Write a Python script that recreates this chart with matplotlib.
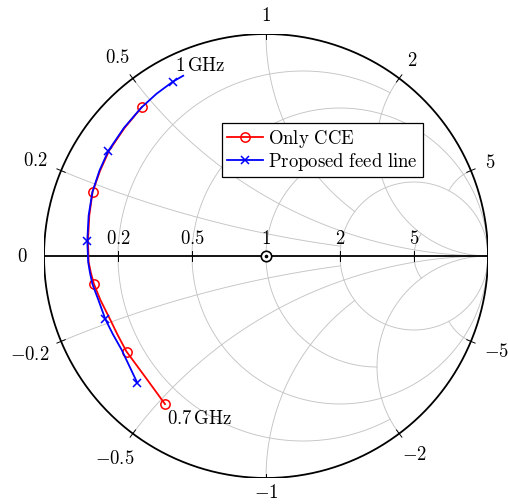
import numpy as np
import matplotlib.pyplot as plt

plt.rcParams['mathtext.fontset'] = 'cm'

cce_re = [-0.455, -0.541, -0.628, -0.668, -0.703, -0.746, -0.775, -0.789,
          -0.799, -0.802, -0.796, -0.781, -0.747, -0.707, -0.637, -0.560]
cce_im = [-0.667, -0.549, -0.431, -0.356, -0.284, -0.198, -0.126, -0.075,
          -0.027, 0.069, 0.182, 0.290, 0.385, 0.474, 0.577, 0.670]
cce_marks = [0, 2, 6, 11, 15]

feed_re = [-0.580, -0.650, -0.690, -0.724, -0.755, -0.782, -0.793, -0.801,
           -0.805, -0.799, -0.782, -0.750, -0.710, -0.640, -0.561, -0.493,
           -0.420, -0.373]
feed_im = [-0.571, -0.423, -0.352, -0.284, -0.198, -0.126, -0.075, -0.027,
           0.069, 0.182, 0.288, 0.385, 0.474, 0.577, 0.669, 0.731, 0.785,
           0.812]
feed_marks = [0, 3, 8, 12, 16]

# smith chart grid
r_ticks = [0.2, 0.5, 1, 2, 5]
x_ticks = [0.2, 0.5, 1, 2, 5]
r_labels = ['0.2', '0.5', '1', '2', '5']
x_labels = ['0.2', '0.5', '1', '2', '5']
full_lines = [0.5, 2]      # the others stop at 2
grid_stop = 2

fs = 13.5
PX = 1 / 222.0   # data units per pixel

fig = plt.figure(figsize=(5.08, 5.04), dpi=100)
ax = fig.add_axes([44 / 508, 26 / 504, 444 / 508, 444 / 504])
ax.set_xlim(-1, 1)
ax.set_ylim(-1, 1)
ax.axis('off')


def gamma(z):
    return (z - 1) / (z + 1)


grid_kw = dict(color='#c4c4c4', lw=0.65, zorder=1)

############### GRID ############
for r in r_ticks:
    if r in full_lines:
        t = np.linspace(0, 2 * np.pi, 721)
        c, rad = r / (1 + r), 1 / (1 + r)
        ax.plot(c + rad * np.cos(t), rad * np.sin(t), **grid_kw)
    else:
        g = gamma(r + 1j * np.linspace(-grid_stop, grid_stop, 801))
        ax.plot(g.real, g.imag, **grid_kw)

for x in x_ticks:
    if x in full_lines:
        rr = np.concatenate([np.linspace(0, 5, 500), np.geomspace(5, 1e5, 600)])
    else:
        rr = np.linspace(0, grid_stop, 500)
    for s in (1, -1):
        g = gamma(rr + 1j * s * x)
        ax.plot(g.real, g.imag, **grid_kw)

# outer circle and real axis
t = np.linspace(0, 2 * np.pi, 721)
ax.plot(np.cos(t), np.sin(t), color='black', lw=1.3, zorder=3)
ax.plot([-1, 1], [0, 0], color='black', lw=1.3, zorder=3)

# ticks on the real axis
for r, lab in zip(r_ticks, r_labels):
    g = gamma(r)
    ax.plot([g, g], [-5 * PX, 5 * PX], color='black', lw=0.7, zorder=3)
    ax.text(g, 18 * PX, '$' + lab + '$', ha='center', va='center', fontsize=fs)
ax.text(-1 - 22 * PX, 0, '$0$', ha='center', va='center', fontsize=fs)

# ticks and labels on the outer circle
fig.canvas.draw()
renderer = fig.canvas.get_renderer()
for x, lab in zip(x_ticks, x_labels):
    for s in (1, -1):
        p = gamma(1j * s * x)
        ux, uy = p.real, p.imag
        ax.plot([ux * (1 - 4.5 * PX), ux * (1 + 4.5 * PX)],
                [uy * (1 - 4.5 * PX), uy * (1 + 4.5 * PX)],
                color='black', lw=0.7, zorder=3)
        txt = '$' + ('-' if s < 0 else '') + lab + '$'
        tt = ax.text(0, 0, txt, ha='center', va='center', fontsize=fs)
        bb = tt.get_window_extent(renderer)
        gap = 9 + 3.5 * abs(ux)
        d = gap + abs(ux) * bb.width / 2 + abs(uy) * bb.height / 2
        px_ = ux * (1 + d * PX)
        py_ = uy * (1 + d * PX)
        # keep the label inside the figure
        bottom = 256 - py_ / PX + bb.height / 2
        if bottom > 502:
            py_ += (bottom - 502) * PX
        tt.set_position((px_, py_))

############### DATA ############
ax.plot(cce_re, cce_im, color='red', lw=1.3, marker='o', ms=6.7, mfc='none',
        mew=1.1, markevery=cce_marks, label=r'$\mathrm{Only\ CCE}$', zorder=4)
ax.plot(feed_re, feed_im, color='blue', lw=1.3, marker='x', ms=5.5,
        mew=1.1, markevery=feed_marks,
        label=r'$\mathrm{Proposed\ feed\ line}$', zorder=5)

# centre point
ax.plot([0], [0], marker='o', ms=7.5, mfc='white', mec='black', mew=1.2,
        zorder=6)
ax.plot([0], [0], marker='o', ms=1.6, color='black', zorder=7)

ax.annotate(r'$1\,\mathrm{GHz}$', xy=(feed_re[-1], feed_im[-1]),
            xytext=(17, 10.7), textcoords='offset pixels',
            ha='center', va='center', fontsize=fs)
ax.annotate(r'$0.7\,\mathrm{GHz}$', xy=(cce_re[0], cce_im[0]),
            xytext=(34.7, -14.3), textcoords='offset pixels',
            ha='center', va='center', fontsize=fs)

leg = ax.legend(loc='upper left', bbox_to_anchor=(222.3 / 508, 1 - 123.3 / 504),
                bbox_transform=fig.transFigure, borderaxespad=0,
                fontsize=fs, fancybox=False, edgecolor='black', framealpha=1,
                handlelength=1.9, handletextpad=0.3, borderpad=0.25,
                labelspacing=0.03, numpoints=1)
leg.get_frame().set_linewidth(0.9)
leg.set_zorder(10)

fig.savefig('out.png', dpi=100)
